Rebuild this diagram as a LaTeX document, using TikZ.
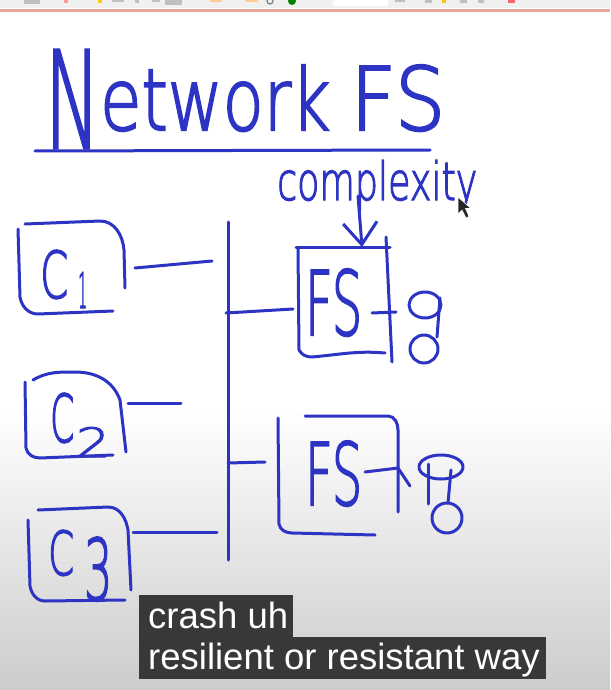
\documentclass[tikz,border=0pt]{standalone}
\usepackage{fontspec}
\newfontfamily\hand{DejaVu Sans ExtraLight}[FakeBold=2.5]
\newfontfamily\capfont{Liberation Sans}
\usetikzlibrary{arrows.meta}
\definecolor{penblue}{RGB}{45,52,196}
\definecolor{capbg}{RGB}{56,56,56}
\definecolor{barpink}{RGB}{235,165,155}
\begin{document}
\begin{tikzpicture}[x=1pt,y=-1pt,
 pen/.style={draw=penblue,line width=3pt,line cap=round,line join=round},
 handtext/.style={text=penblue,inner sep=0pt,anchor=base west,font=\hand},
 captext/.style={text=white,inner sep=0pt,anchor=base west,font=\capfont\fontsize{36.5}{42}\selectfont},
 capbox/.style={fill=capbg,draw=none},
 icon/.style={fill=black!25,draw=none}]
\useasboundingbox (0,0) rectangle (610,690);
\fill[white] (0,0) rectangle (610,690);
\shade[top color=white,bottom color=black!20] (0,410) rectangle (610,690);
% toolbar remnants
\fill[black!6] (0,0) rectangle (610,8);
\fill[icon] (24,0) rectangle (40,4);
\fill[red!40] (64,0) rectangle (68,3);
\fill[yellow!70!orange] (98,0) rectangle (102,3);
\fill[icon] (112,0) rectangle (124,2);
\fill[icon] (135,0) rectangle (139,3);
\fill[icon] (152,0) rectangle (160,2);
\fill[icon] (165,0) rectangle (182,5);
\fill[orange!40] (210,0) rectangle (222,2);
\fill[orange!40] (245,0) rectangle (258,2);
\draw[black!50,line width=1.2pt] (270,1) circle [radius=3];
\fill[green!50!black] (292,1) circle [radius=4];
\fill[white] (333,0) rectangle (388,6);
\fill[icon] (395,0) rectangle (405,2);
\fill[icon] (425,0) rectangle (432,3);
\fill[yellow!60!orange] (442,0) rectangle (446,3);
\fill[icon] (460,0) rectangle (467,3);
\fill[icon] (478,0) rectangle (484,3);
\fill[red!60] (508,0) rectangle (515,3);
\draw[barpink,line width=3pt] (0,10.5) -- (610,10.5);

% title
\node[handtext] (title) at (45,130)
 {\raisebox{-18pt}{\resizebox{55pt}{98pt}{N}}\resizebox{230pt}{65pt}{etwork}\hspace{17pt} \resizebox{95pt}{65pt}{FS}};
\coordinate (ulA) at (35,151);
\coordinate (ulB) at (430,150);
\draw[pen] (ulA) -- (ulB);

% complexity
\node[handtext] (cplx) at (277,200) {\resizebox{200pt}{40pt}{complexity}};
\coordinate (arrA) at (358,196);
\coordinate (fsoneTop) at (362,247);
\draw[pen,-{Straight Barb[length=22pt,width=34pt]}] (arrA) -- (fsoneTop);

% cursor
\fill[black!85,draw=white,line width=0.6pt] (458,197) -- (458,214) -- (462,210) -- (466,218) -- (469,216.5) -- (465.5,208.5) -- (471,208.5) -- cycle;

% clients
\draw[pen] (18,229) -- (20,297) to[out=-80,in=180] (38,314) -- (113,311);
\draw[pen] (25,224) -- (100,221) to[out=0,in=95] (124,250) -- (125,288);
\node[handtext] (cone) at (40,298) {\resizebox{28pt}{48pt}{C}\hspace{10pt}\raisebox{-10pt}{\resizebox{9pt}{36pt}{1}}};

\draw[pen] (25,382) -- (26,448) to[out=-80,in=180] (40,458) -- (113,455);
\draw[pen] (33,380) to[out=30,in=180] (75,372) to[out=0,in=110] (120,400) -- (126,452);
\node[handtext] (ctwo) at (50,442) {\resizebox{24pt}{49pt}{C}\hspace{2pt}\raisebox{-15pt}{\resizebox{34pt}{30pt}{2}}};

\draw[pen] (28,520) -- (30,586) to[out=-80,in=180] (45,601) -- (125,600);
\draw[pen] (38,510) -- (108,507) to[out=0,in=100] (128,530) -- (131,590);
\node[handtext] (cthree) at (48,575) {\resizebox{26pt}{45pt}{C}\hspace{10pt}\raisebox{-25pt}{\resizebox{28pt}{63pt}{3}}};

% bus
\coordinate (busTop) at (228,222);
\coordinate (busBot) at (228,560);
\draw[pen] (busTop) -- (busBot);

\coordinate (conA) at (135,268); \coordinate (conB) at (212,261);
\coordinate (ctwoA) at (128,403); \coordinate (ctwoB) at (181,403);
\coordinate (cthreeA) at (133,532); \coordinate (cthreeB) at (217,532);
\draw[pen] (conA) -- (conB);
\draw[pen] (ctwoA) -- (ctwoB);
\draw[pen] (cthreeA) -- (cthreeB);

% file server 1
\coordinate (busFsone) at (226,313);
\coordinate (fsoneL) at (293,309);
\draw[pen] (busFsone) -- (fsoneL);
\draw[pen] (296,247) -- (390,247);
\draw[pen] (298,249) -- (299,350) to[out=-60,in=180] (312,357) to[out=5,in=175] (385,353);
\draw[pen] (386,237) -- (392,362);
\node[handtext] (fsone) at (305,335) {\resizebox{57pt}{66pt}{FS}};
\draw[pen] (372,313) -- (396,312);
\draw[pen] (425,305) ellipse [x radius=16, y radius=13];
\draw[pen] (440,298) -- (437,337);
\draw[pen] (424,349) circle [radius=14];

% file server 2
\coordinate (busFstwo) at (228,463);
\coordinate (fstwoL) at (265,462);
\draw[pen] (busFstwo) -- (fstwoL);
\draw[pen] (278,418) -- (279,524) to[out=-80,in=180] (292,533) -- (375,535);
\draw[pen] (305,416) -- (388,416) to[out=0,in=90] (398,430) -- (398,512);
\node[handtext] (fstwo) at (305,505) {\resizebox{57pt}{64pt}{FS}};
\draw[pen] (365,472) -- (398,468) -- (410,486);
\draw[pen] (441,467) ellipse [x radius=22, y radius=12];
\draw[pen] (428,464) -- (428,504);
\draw[pen] (451,470) -- (448,503);
\draw[pen] (447,518) circle [radius=15];

% captions
\fill[capbox] (139,595) rectangle (293,638);
\fill[capbox] (139,637) rectangle (546,679);
\node[captext] (capone) at (148,628) {crash uh};
\node[captext] (captwo) at (148,669) {resilient or resistant way};
\end{tikzpicture}
\end{document}
